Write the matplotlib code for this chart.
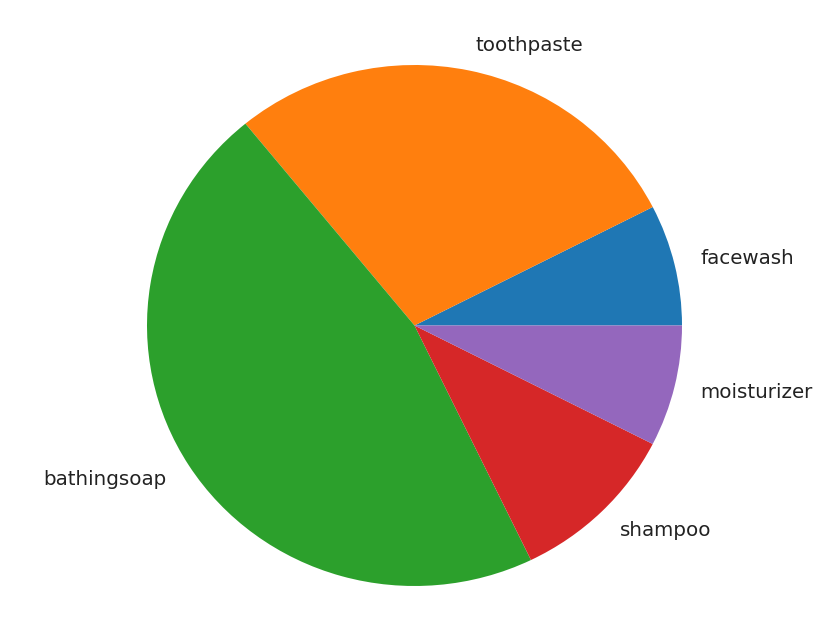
import matplotlib
matplotlib.use('Agg')
import matplotlib.pyplot as plt

# yearly units sold per product
products = ['facewash', 'toothpaste', 'bathingsoap', 'shampoo', 'moisturizer']
units = [18515, 69910, 114010, 25410, 18515]

W, H = 838, 636
fig = plt.figure(figsize=(W / 100, H / 100), dpi=100)

# pie is slightly wider than tall in the reference
cx, cy = 414.5, 636 - 325.5
rx, ry = 267.5, 260.5
lim = 1.2
ax = fig.add_axes([(cx - rx * lim) / W, (cy - ry * lim) / H,
                   2 * rx * lim / W, 2 * ry * lim / H])

ax.pie(units, labels=products, textprops={'fontsize': 14.3, 'color': '#222222'})
ax.set_aspect('auto')
ax.set_xlim(-lim, lim)
ax.set_ylim(-lim, lim)

fig.savefig('out.png', dpi=100)
